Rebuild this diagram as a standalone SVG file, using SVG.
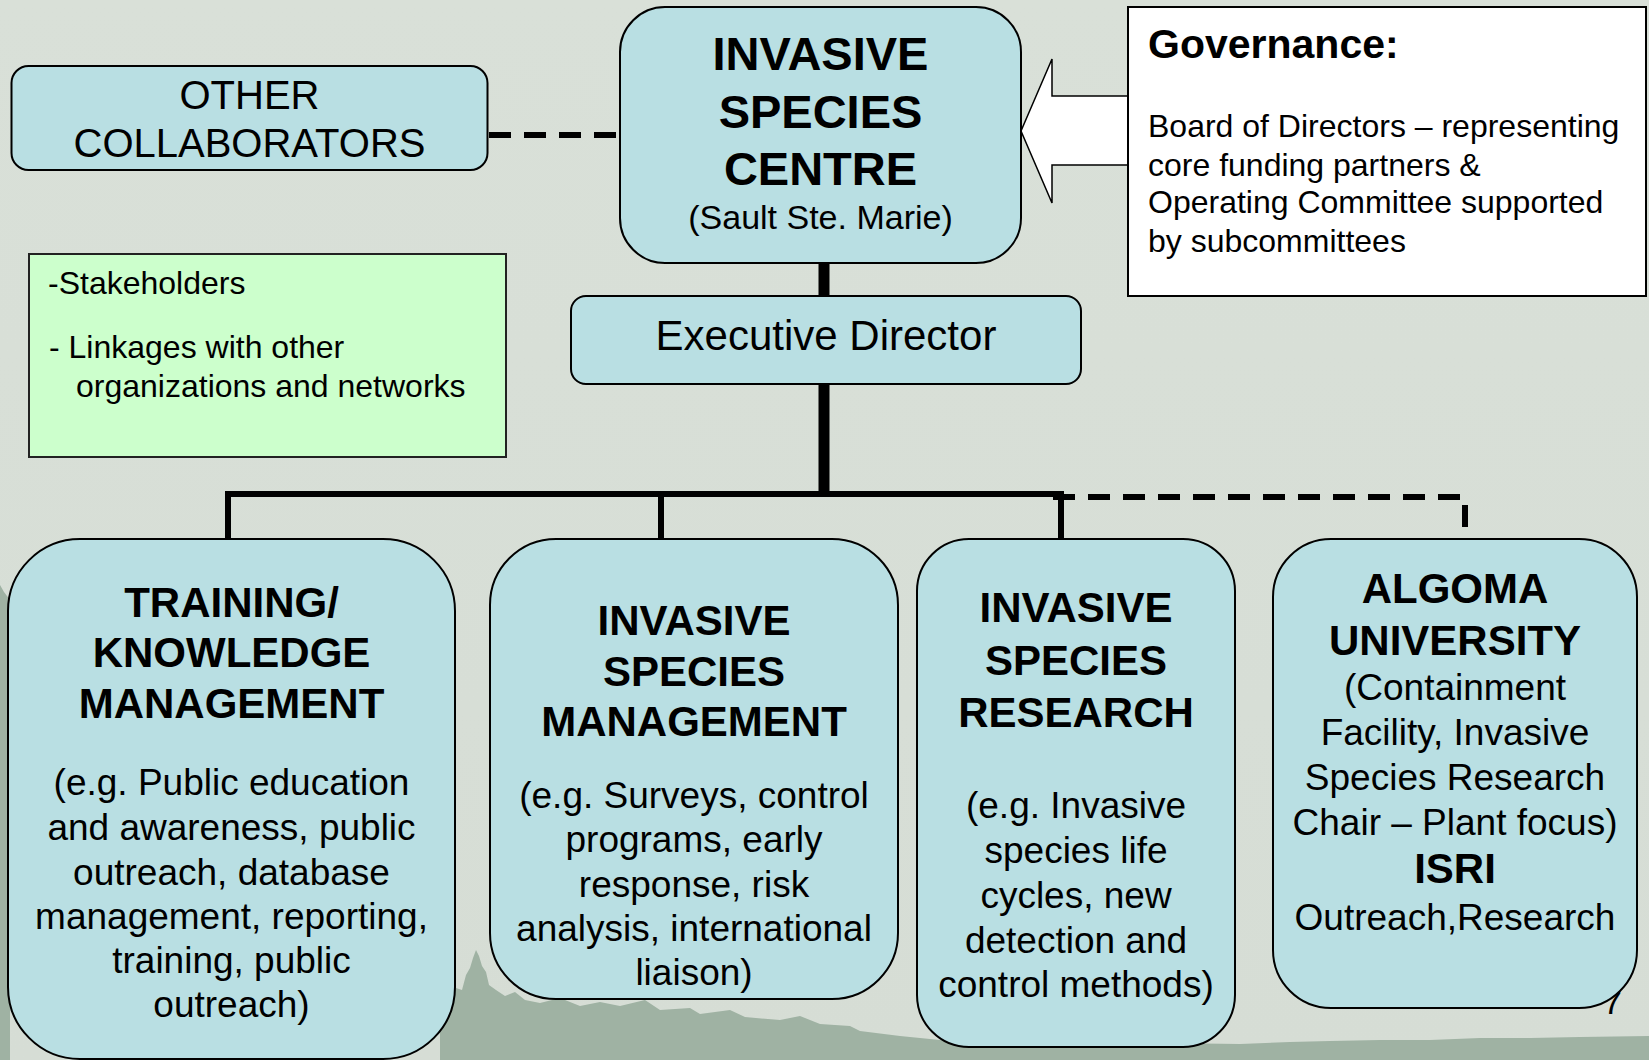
<svg xmlns="http://www.w3.org/2000/svg" width="1649" height="1060" viewBox="0 0 1649 1060">
  <style>
    .box { fill: #b9dfe3; stroke: #000; stroke-width: 2; }
    .t { font-family: "Liberation Sans", Arial, sans-serif; fill: #000; }
    .c { text-anchor: middle; }
    .b { font-weight: bold; }
    .solid { fill: none; stroke: #000; stroke-linejoin: miter; stroke-linecap: butt; }
    .dash { fill: none; stroke: #000; stroke-width: 6; stroke-dasharray: 22 13; }
  </style>
  <defs>
    <linearGradient id="bg" x1="0" y1="0" x2="0" y2="1">
      <stop offset="0" stop-color="#d9e0d8"/>
      <stop offset="1" stop-color="#d6ddd5"/>
    </linearGradient>
  </defs>

  <!-- background scene -->
  <rect x="0" y="0" width="1649" height="1060" fill="url(#bg)"/>
  <path d="M0,585 L4,592 L10,600 L10,1060 L0,1060 Z" fill="#9fb2a3"/>
  <path d="M440,1060 L440,1002 L450,996 L456,988 L462,990 L466,975 L470,968 L473,958 L476,950 L479,956 L482,966 L486,972 L489,985 L496,990 L505,996 L515,992 L525,1000 L540,1003 L560,998 L580,1006 L600,1002 L620,1006 L645,1000 L660,1010 L690,1008 L700,1014 L730,1010 L745,1017 L780,1020 L800,1016 L820,1024 L850,1026 L860,1031 L900,1036 L940,1040 L1240,1044 L1290,1042 L1330,1041 L1380,1040 L1430,1040 L1480,1038 L1530,1038 L1580,1037 L1649,1036 L1649,1060 Z" fill="#9fb2a3"/>
  <text class="t" x="1603" y="1014" font-size="34">7</text>

  <!-- connectors -->
  <g id="connectors">
    <line class="dash" x1="489" y1="135" x2="620" y2="135"/>
    <line class="solid" x1="824" y1="263" x2="824" y2="296" stroke-width="11"/>
    <line class="solid" x1="824" y1="384" x2="824" y2="497" stroke-width="11"/>
    <path class="solid" d="M228,539 V494 H1061 V539" stroke-width="6"/>
    <line class="solid" x1="661" y1="494" x2="661" y2="539" stroke-width="6"/>
    <path class="dash" d="M1053,497 H1465 V539"/>
  </g>

  <!-- governance arrow -->
  <g id="governance-arrow">
    <polygon points="1021,131 1052,59 1052,96 1130,96 1130,165 1052,165 1052,203" fill="#fff" stroke="#000" stroke-width="1.5"/>
  </g>

  <g id="other-collaborators">
    <rect class="box" x="11.5" y="66" width="476" height="104" rx="17"/>
    <text class="t c" x="249.5" y="109" font-size="40">OTHER</text>
    <text class="t c" x="249.5" y="157" font-size="40">COLLABORATORS</text>
  </g>

  <g id="centre">
    <rect class="box" x="620" y="7" width="401" height="256" rx="45"/>
    <text class="t c b" x="820.5" y="70" font-size="47">INVASIVE</text>
    <text class="t c b" x="820.5" y="128" font-size="47">SPECIES</text>
    <text class="t c b" x="820.5" y="185" font-size="47">CENTRE</text>
    <text class="t c" x="820.5" y="229" font-size="34">(Sault Ste. Marie)</text>
  </g>

  <g id="governance">
    <rect x="1128" y="7" width="518" height="289" fill="#fff" stroke="#000" stroke-width="2"/>
    <text class="t b" x="1148" y="58" font-size="41">Governance:</text>
    <text class="t" x="1148" y="137" font-size="32">Board of Directors – representing</text>
    <text class="t" x="1148" y="176" font-size="32">core funding partners &amp;</text>
    <text class="t" x="1148" y="213" font-size="32">Operating Committee supported</text>
    <text class="t" x="1148" y="252" font-size="32">by subcommittees</text>
  </g>

  <g id="executive-director">
    <rect class="box" x="571" y="296" width="510" height="88" rx="15"/>
    <text class="t c" x="826" y="350" font-size="42">Executive Director</text>
  </g>

  <g id="stakeholders">
    <rect x="29" y="254" width="477" height="203" fill="#ccffcc" stroke="#222" stroke-width="2"/>
    <text class="t" x="48" y="294" font-size="32">-Stakeholders</text>
    <text class="t" x="49" y="358" font-size="32">- Linkages with other</text>
    <text class="t" x="76" y="397" font-size="32">organizations and networks</text>
  </g>

  <g id="training">
    <rect class="box" x="8" y="539" width="447" height="520" rx="72"/>
    <text class="t c b" x="231.5" y="617" font-size="42">TRAINING/</text>
    <text class="t c b" x="231.5" y="667" font-size="42">KNOWLEDGE</text>
    <text class="t c b" x="231.5" y="718" font-size="42">MANAGEMENT</text>
    <text class="t c" x="231.5" y="795" font-size="37">(e.g. Public education</text>
    <text class="t c" x="231.5" y="840" font-size="37">and awareness, public</text>
    <text class="t c" x="231.5" y="885" font-size="37">outreach, database</text>
    <text class="t c" x="231.5" y="929" font-size="37">management, reporting,</text>
    <text class="t c" x="231.5" y="973" font-size="37">training, public</text>
    <text class="t c" x="231.5" y="1017" font-size="37">outreach)</text>
  </g>

  <g id="species-management">
    <rect class="box" x="490" y="539" width="408" height="460" rx="66"/>
    <text class="t c b" x="694" y="635" font-size="42">INVASIVE</text>
    <text class="t c b" x="694" y="686" font-size="42">SPECIES</text>
    <text class="t c b" x="694" y="736" font-size="42">MANAGEMENT</text>
    <text class="t c" x="694" y="808" font-size="37">(e.g. Surveys, control</text>
    <text class="t c" x="694" y="852" font-size="37">programs, early</text>
    <text class="t c" x="694" y="897" font-size="37">response, risk</text>
    <text class="t c" x="694" y="941" font-size="37">analysis, international</text>
    <text class="t c" x="694" y="985" font-size="37">liaison)</text>
  </g>

  <g id="species-research">
    <rect class="box" x="917" y="539" width="318" height="508" rx="52"/>
    <text class="t c b" x="1076" y="622" font-size="42">INVASIVE</text>
    <text class="t c b" x="1076" y="675" font-size="42">SPECIES</text>
    <text class="t c b" x="1076" y="727" font-size="42">RESEARCH</text>
    <text class="t c" x="1076" y="818" font-size="37">(e.g. Invasive</text>
    <text class="t c" x="1076" y="863" font-size="37">species life</text>
    <text class="t c" x="1076" y="908" font-size="37">cycles, new</text>
    <text class="t c" x="1076" y="953" font-size="37">detection and</text>
    <text class="t c" x="1076" y="997" font-size="37">control methods)</text>
  </g>

  <g id="algoma">
    <rect class="box" x="1273" y="539" width="364" height="469" rx="58"/>
    <text class="t c b" x="1455" y="603" font-size="42">ALGOMA</text>
    <text class="t c b" x="1455" y="655" font-size="42">UNIVERSITY</text>
    <text class="t c" x="1455" y="700" font-size="37">(Containment</text>
    <text class="t c" x="1455" y="745" font-size="37">Facility, Invasive</text>
    <text class="t c" x="1455" y="790" font-size="37">Species Research</text>
    <text class="t c" x="1455" y="835" font-size="37">Chair – Plant focus)</text>
    <text class="t c b" x="1455" y="883" font-size="42">ISRI</text>
    <text class="t c" x="1455" y="930" font-size="37">Outreach,Research</text>
  </g>
</svg>
